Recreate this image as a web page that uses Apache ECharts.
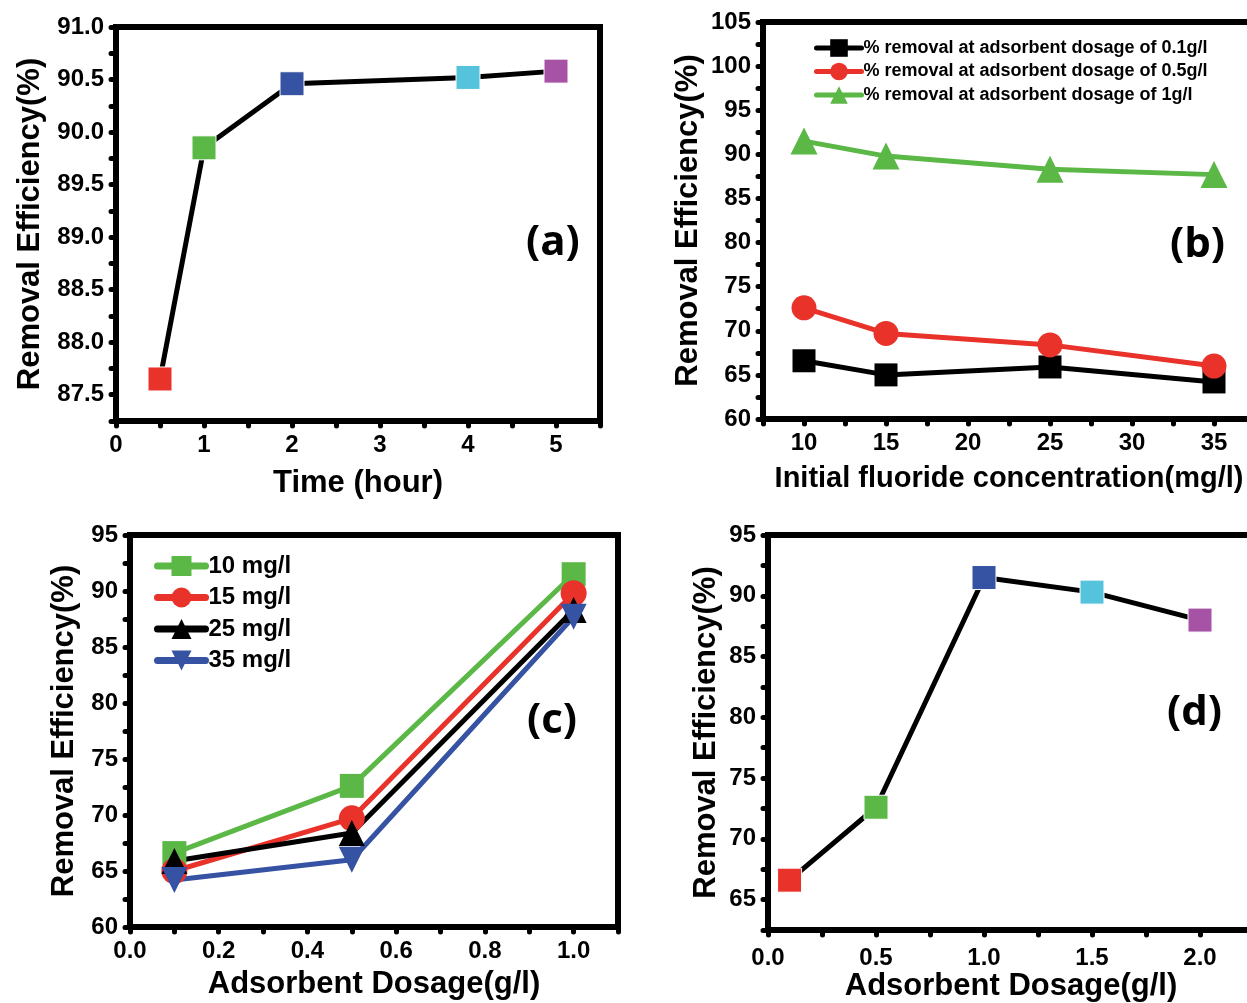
<!DOCTYPE html>
<html>
<head>
<meta charset="utf-8">
<script src="https://cdn.jsdelivr.net/npm/echarts@6/dist/echarts.min.js"></script>
<style>
  html, body { margin: 0; padding: 0; background: #fff; }
  #chart { width: 1247px; height: 1003px; }
</style>
</head>
<body>
<div id="chart"></div>
<script>
// (a) contact time
const timeHours = [0.5, 1, 2, 4, 5];
const effByTime = [87.65, 89.85, 90.46, 90.52, 90.58];
const pointColors = ['#e8322a', '#5bb847', '#3652a3', '#55c3dc', '#a653a6'];

// (b) initial concentration, one series per dosage
const concentrations = [10, 15, 25, 35];
const effDose01 = [66.6, 65.0, 65.9, 64.2];
const effDose05 = [72.6, 69.7, 68.4, 66.0];
const effDose1 = [91.5, 89.8, 88.3, 87.7];
const doseNamesB = [
  '% removal at adsorbent dosage of 0.1g/l',
  '% removal at adsorbent dosage of 0.5g/l',
  '% removal at adsorbent dosage of 1g/l'
];

// (c) dosage, one series per concentration
const dosagesC = [0.1, 0.5, 1.0];
const concNamesC = ['10 mg/l', '15 mg/l', '25 mg/l', '35 mg/l'];

// (d) dosage at 10 mg/l
const dosagesD = [0.1, 0.5, 1.0, 1.5, 2.0];
const effByDose = [66.6, 72.6, 91.5, 90.3, 88.0];

const FONT = 'Liberation Sans';
const BLACK = '#000';

function isMult(v, step) {
  const r = v / step;
  return Math.abs(r - Math.round(r)) < 1e-6;
}

function axisBase(gridIndex, min, max, step, labelStep, digits, extra) {
  return Object.assign({
    type: 'value',
    gridIndex,
    min, max,
    interval: step,
    splitLine: { show: false },
    axisLine: { lineStyle: { color: BLACK, width: 6 } },
    axisTick: { inside: false, length: 5, lineStyle: { color: BLACK, width: 5, cap: 'round' } },
    axisLabel: {
      color: BLACK, fontFamily: FONT, fontWeight: 'bold', fontSize: 24, margin: 12,
      showMinLabel: true, showMaxLabel: true,
      formatter: v => isMult(v, labelStep) ? v.toFixed(digits) : ''
    },
    nameTextStyle: { color: BLACK, fontFamily: FONT, fontWeight: 'bold', fontSize: 31 },
    nameLocation: 'middle'
  }, extra);
}

const yTitle = 'Removal Efficiency(%)';

// right frames of (b) and (d) run past the picture edge, as in the figure
const grids = [
  { left: 116, top: 27, width: 484, height: 394 },
  { left: 763, top: 22, width: 492, height: 397 },
  { left: 130, top: 535, width: 488, height: 392 },
  { left: 768, top: 535, width: 486, height: 395 }
].map(g => Object.assign({
  show: true, borderColor: BLACK, borderWidth: 6, backgroundColor: 'transparent',
  containLabel: false, outerBoundsMode: 'none'
}, g));

const xAxes = [
  axisBase(0, 0, 5.5, 0.5, 1, 0, { name: 'Time (hour)', nameGap: 47 }),
  axisBase(1, 7.5, 37.5, 2.5, 5, 0, { name: 'Initial fluoride concentration(mg/l)', nameGap: 45 }),
  axisBase(2, 0, 1.1, 0.1, 0.2, 1, { name: 'Adsorbent Dosage(g/l)', nameGap: 42 }),
  axisBase(3, 0, 2.25, 0.25, 0.5, 1, { name: 'Adsorbent Dosage(g/l)', nameGap: 40 })
];
xAxes[1].nameTextStyle = Object.assign({}, xAxes[1].nameTextStyle, { fontSize: 29 });
xAxes[3].axisLabel = Object.assign({}, xAxes[3].axisLabel, { margin: 16 });

const yAxes = [
  axisBase(0, 87.25, 91, 0.25, 0.5, 1, { name: yTitle, nameGap: 70 }),
  axisBase(1, 60, 105, 2.5, 5, 0, { name: yTitle, nameGap: 59 }),
  axisBase(2, 60, 95, 2.5, 5, 0, { name: yTitle, nameGap: 50 }),
  axisBase(3, 62.5, 95, 2.5, 5, 0, { name: yTitle, nameGap: 46 })
];

function coloredPoints(xs, ys) {
  return xs.map((x, i) => ({ value: [x, ys[i]], itemStyle: { color: pointColors[i], borderColor: '#fff', borderWidth: 1 } }));
}

function lineSeries(name, idx, data, color, symbol, size) {
  return {
    name, type: 'line', xAxisIndex: idx, yAxisIndex: idx,
    data, symbol, symbolSize: size,
    lineStyle: { color, width: 5, cap: 'round' },
    itemStyle: { color },
    animation: false
  };
}

const invTriangle = 'path://M0,0 L10,0 L5,9 Z';
const series = [];

// (a)
series.push(lineSeries('time', 0, coloredPoints(timeHours, effByTime), BLACK, 'rect', 24));

// (b)
const bData = [effDose01, effDose05, effDose1];
const bColors = [BLACK, '#e8322a', '#5bb847'];
const bSymbols = ['rect', 'circle', 'triangle'];
const bSizes = [23, 25, 27];
bData.forEach((vals, k) => {
  series.push(lineSeries(doseNamesB[k], 1, concentrations.map((c, i) => [c, vals[i]]), bColors[k], bSymbols[k], bSizes[k]));
});

// (c)
const cColors = ['#5bb847', '#e8322a', BLACK, '#3652a3'];
const cSymbols = ['rect', 'circle', 'triangle', invTriangle];
const cSizes = [24, 26, 26, 26];
concNamesC.forEach((name, i) => {
  const vals = [effDose01[i], effDose05[i], effDose1[i]];
  series.push(lineSeries(name, 2, dosagesC.map((d, j) => [d, vals[j]]), cColors[i], cSymbols[i], cSizes[i]));
});

// (d)
series.push(lineSeries('dosage', 3, coloredPoints(dosagesD, effByDose), BLACK, 'rect', 24));

const letterStyle = (text, x, y) => ({
  type: 'text', left: x, top: y,
  style: { text, fill: BLACK, font: 'bold 42px "Open Sans"' }
});

const option = {
  backgroundColor: '#fff',
  animation: false,
  grid: grids,
  xAxis: xAxes,
  yAxis: yAxes,
  legend: [
    {
      data: doseNamesB, orient: 'vertical', left: 809, top: 34,
      itemWidth: 45, itemHeight: 22, itemGap: 5.5,
      lineStyle: { width: 5, cap: 'round' },
      textStyle: { color: BLACK, fontFamily: FONT, fontWeight: 'bold', fontSize: 18, padding: [0, 0, 0, -3] }
    },
    {
      data: concNamesC, orient: 'vertical', left: 149, top: 549,
      itemWidth: 48, itemHeight: 25, itemGap: 7.5,
      lineStyle: { width: 7, cap: 'round' },
      textStyle: { color: BLACK, fontFamily: FONT, fontWeight: 'bold', fontSize: 24, padding: [0, 0, 0, -2] }
    }
  ],
  graphic: [
    letterStyle('(a)', 526, 222),
    letterStyle('(b)', 1170, 224),
    letterStyle('(c)', 527, 700),
    letterStyle('(d)', 1167, 692)
  ],
  series
};

const chart = echarts.init(document.getElementById('chart'), null, { renderer: 'canvas' });
chart.setOption(option);
</script>
</body>
</html>
